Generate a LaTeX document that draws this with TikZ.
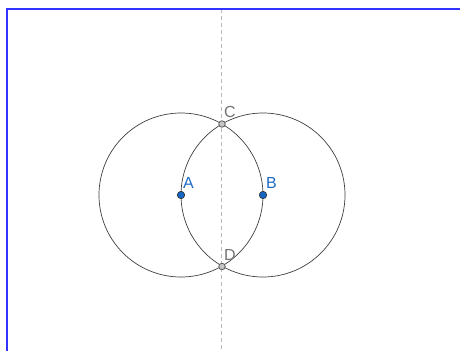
\documentclass[tikz,border=0pt]{standalone}
\usepackage{fontspec}
\setmainfont{Liberation Sans}
\definecolor{ptblue}{HTML}{1565C0}
\definecolor{labblue}{HTML}{1E6BC8}
\begin{document}
\begin{tikzpicture}[x=1pt,y=-1pt,
  frame/.style={draw=blue!80!white, line width=2pt},
  guide/.style={draw=gray!55, dashed, dash pattern=on 4pt off 3pt, line width=0.7pt},
  circ/.style={draw=black!75, line width=0.7pt},
  freept/.style={circle, fill=ptblue, draw=black!80, line width=0.6pt, inner sep=0pt, minimum size=7.5pt},
  intpt/.style={circle, fill=gray!45, draw=black!65, line width=0.8pt, inner sep=0pt, minimum size=6.5pt},
  bluelab/.style={text=labblue, font=\fontsize{16}{18}\selectfont, inner sep=0pt},
  graylab/.style={text=gray!90!black, font=\fontsize{16}{18}\selectfont, inner sep=0pt}]
\useasboundingbox (0,0) rectangle (460,351);
\fill[white] (0,0) rectangle (460,351);
\coordinate (tl) at (7,8.5);
\coordinate (tr) at (460,8.5);
\coordinate (bl) at (7,351);
\coordinate (gt) at (221.5,9);
\coordinate (gb) at (221.5,351);
\draw[guide] (gt) -- (gb);
\draw[frame] (tr) -- (tl) -- (bl);
\coordinate (Ac) at (181,195);
\coordinate (Bc) at (263,195);
\draw[circ] (Ac) circle (82);
\draw[circ] (Bc) circle (82);
\node[intpt] (C) at (222,124) {};
\node[intpt] (D) at (222,266.5) {};
\node[freept] (A) at (Ac) {};
\node[freept] (B) at (Bc) {};
\node[bluelab, anchor=base west] (la) at (183,188) {A};
\node[bluelab, anchor=base west] (lb) at (266,188) {B};
\node[graylab, anchor=base west] (lc) at (224,117) {C};
\node[graylab, anchor=base west] (ld) at (224,260) {D};
\end{tikzpicture}
\end{document}
